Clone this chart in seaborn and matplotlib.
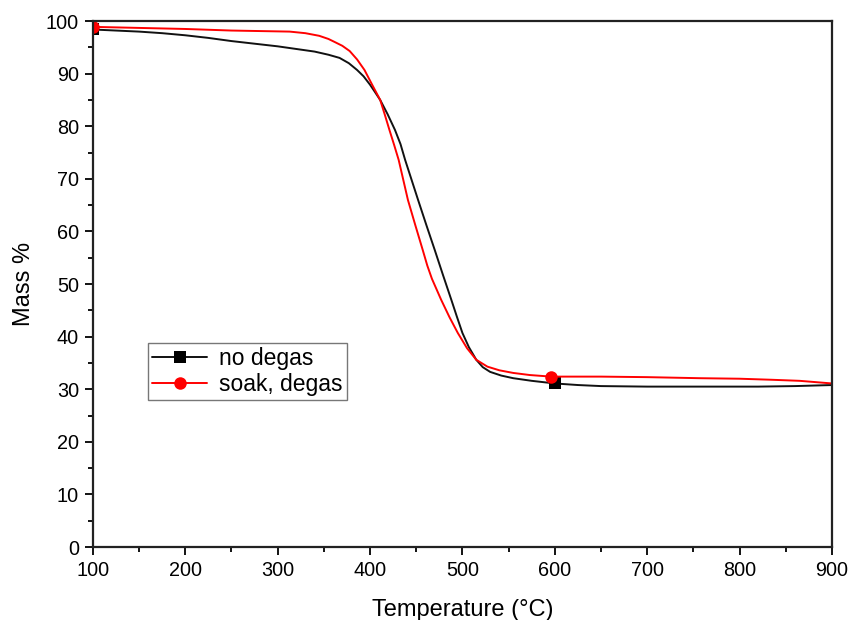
import matplotlib
matplotlib.use("Agg")
import matplotlib.pyplot as plt
import seaborn as sns
import numpy as np
import pandas as pd
from matplotlib.ticker import MultipleLocator

# Data
temp_nodegas = [100, 125, 150, 175, 200, 225, 250, 275, 300, 320, 340, 355, 367, 377, 386,
                393, 400, 405, 411, 419, 427, 433, 438, 445, 452, 461, 470, 479, 488, 494,
                500, 507, 515, 522, 530, 542, 555, 575, 600, 625, 650, 700, 760, 820, 860, 900]
mass_nodegas = [98.4, 98.2, 98.0, 97.7, 97.3, 96.8, 96.2, 95.7, 95.2, 94.7, 94.2, 93.6, 93.0,
                92.0, 90.7, 89.5, 87.9, 86.6, 85.0, 82.3, 79.3, 76.6, 73.6, 69.8, 66.0, 61.2,
                56.5, 51.7, 47.0, 43.8, 40.7, 38.0, 35.6, 34.2, 33.3, 32.6, 32.1, 31.6, 31.1,
                30.8, 30.6, 30.5, 30.5, 30.5, 30.6, 30.8]

temp_soak = [100, 150, 200, 250, 313, 330, 345, 355, 362, 370, 378, 386, 394, 402, 411, 416,
             421, 426, 431, 436, 441, 449, 457, 462, 467, 472, 477, 486, 495, 505, 515, 527,
             540, 555, 573, 596, 650, 700, 757, 800, 835, 865, 900]
mass_soak = [98.9, 98.7, 98.5, 98.2, 98.0, 97.7, 97.2, 96.6, 96.0, 95.3, 94.3, 92.7, 90.7,
             88.0, 85.0, 82.2, 79.3, 76.5, 73.6, 69.8, 66.0, 61.2, 56.5, 53.5, 51.0, 49.0,
             47.0, 43.7, 40.7, 37.8, 35.6, 34.3, 33.6, 33.1, 32.7, 32.4, 32.4, 32.3, 32.1,
             32.0, 31.8, 31.6, 31.1]

label_nodegas = "no degas"
label_soak = "soak, degas"

sns.set_style("ticks")
plt.rcParams['font.family'] = ['Liberation Sans', 'DejaVu Sans']
plt.rcParams['text.color'] = 'black'
plt.rcParams['axes.labelcolor'] = 'black'

fig = plt.figure(figsize=(8.52, 6.2), dpi=100)
ax = fig.add_axes([0.109, 0.1177, 0.8675, 0.8483])

df1 = pd.DataFrame({"T": temp_nodegas, "M": mass_nodegas})
df2 = pd.DataFrame({"T": temp_soak, "M": mass_soak})

sns.lineplot(data=df1, x="T", y="M", ax=ax, color="#111111", lw=1.4, marker="s",
             markersize=8, markevery=[0, temp_nodegas.index(600)], label=label_nodegas,
             markeredgewidth=0, markerfacecolor="black")
sns.lineplot(data=df2, x="T", y="M", ax=ax, color="red", lw=1.4, marker="o",
             markersize=9, markevery=[0, temp_soak.index(596)], label=label_soak,
             markeredgewidth=0)

ax.set_xlim(100, 900)
ax.set_ylim(0, 100)
ax.xaxis.set_major_locator(MultipleLocator(100))
ax.xaxis.set_minor_locator(MultipleLocator(50))
ax.yaxis.set_major_locator(MultipleLocator(10))
ax.yaxis.set_minor_locator(MultipleLocator(5))
ax.tick_params(which="major", direction="out", length=6, width=1.3, labelsize=14.3,
               colors="black", pad=4)
ax.tick_params(which="minor", direction="out", length=3.5, width=1.3, colors="black")
for s in ax.spines.values():
    s.set_visible(True)
    s.set_linewidth(1.6)
    s.set_color("#222222")

ax.set_xlabel("Temperature (°C)", fontsize=17, labelpad=14, color="black")
ax.set_ylabel("Mass %", fontsize=17, labelpad=8, color="black")

leg = ax.legend(loc="lower left", bbox_to_anchor=(0.074, 0.279), fontsize=16.5,
                frameon=True, fancybox=False, edgecolor="#777777", framealpha=1,
                handlelength=2.4, borderpad=0.2, labelspacing=0.1, handletextpad=0.5,
                borderaxespad=0)
leg.get_frame().set_linewidth(1.0)
for t in leg.get_texts():
    t.set_color("black")

fig.savefig("out.png", dpi=100)
